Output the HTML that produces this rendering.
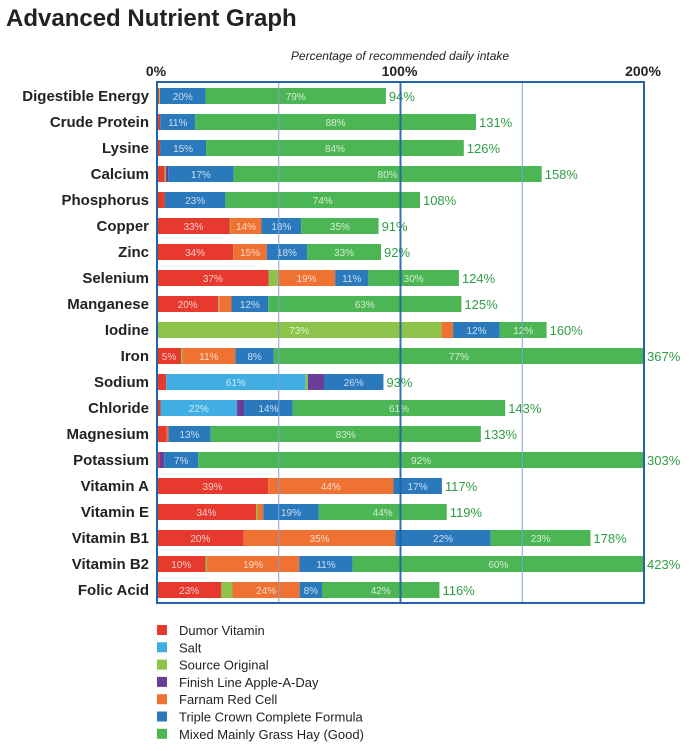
<!DOCTYPE html>
<html><head><meta charset="utf-8"><style>
body{margin:0;background:#fff;font-family:"Liberation Sans",sans-serif;}
svg{display:block}
</style></head><body>
<svg id="c" width="689" height="751" xmlns="http://www.w3.org/2000/svg">
<text x="6" y="26" font-size="24" font-weight="bold" fill="#222">Advanced Nutrient Graph</text>
<text x="400" y="60" font-size="12" font-style="italic" text-anchor="middle" fill="#222">Percentage of recommended daily intake</text>
<g id="bars"></g>
<g id="grid"></g>
<g id="legend"></g>
</svg>
<script>
const categories=["Digestible Energy","Crude Protein","Lysine","Calcium","Phosphorus","Copper","Zinc","Selenium","Manganese","Iodine","Iron","Sodium","Chloride","Magnesium","Potassium","Vitamin A","Vitamin E","Vitamin B1","Vitamin B2","Folic Acid"];
const totals=[94,131,126,158,108,91,92,124,125,160,367,93,143,133,303,117,119,178,423,116];
const seriesNames=["Dumor Vitamin","Salt","Source Original","Finish Line Apple-A-Day","Farnam Red Cell","Triple Crown Complete Formula","Mixed Mainly Grass Hay (Good)"];
const seriesColors=["#e8392f","#40aee3","#8dc34a","#6a3d98","#f07232","#2a79bd","#4db654"];
const dumor=[1,1,1,2,3,33,34,37,20,0,5,4,1,3,0.5,39,34,20,10,23];
const salt=[0,0,0,0,0,0,0,0,0,0,0,61,22,0,0,0,0,0,0,0];
const source=[0.3,0,0,0.3,0,0.3,0,3,0.3,73,0.3,1,0,0,0,0,0.5,0,0.3,4];
const finish=[0,0,0,0.6,0,0,0,0,0,0,0,7,2,0,1,0,0,0,0,0];
const farnam=[0,0,0,0,0,14,15,19,4,3,11,0,0,0.5,0,44,2,35,19,24];
const triple=[20,11,15,17,23,18,18,11,12,12,8,26,14,13,7,17,19,22,11,8];
const hay=[79,88,84,80,74,35,33,30,63,12,77,0,61,83,92,0,44,23,60,42];
const ticks=[0,100,200];
const series=[dumor,salt,source,finish,farnam,triple,hay];
const NS="http://www.w3.org/2000/svg";
const X0=157,X1=644,Y0=82,Y1=603,MAX=200;
const xs=v=>X0+(v/MAX)*(X1-X0);
const yRow=i=>96+i*26;
function mk(tag,at,parent){const e=document.createElementNS(NS,tag);for(const k in at)e.setAttribute(k,at[k]);parent.appendChild(e);return e;}
const svg=document.getElementById('c');
const bars=document.getElementById('bars'),grid=document.getElementById('grid'),leg=document.getElementById('legend');
categories.forEach((c,i)=>{
  const y=yRow(i);
  const t=mk('text',{x:149,y:y+5,'font-size':15,'font-weight':'bold','text-anchor':'end',fill:'#222'},svg);
  t.textContent=c;
  
  
  const tot=totals[i];const shown=Math.min(tot,MAX);
  let sum=0;series.forEach(s=>sum+=s[i]);
  let acc=0;
  series.forEach((s,k)=>{
    const v=s[i];if(!v)return;
    const a=xs(acc/sum*shown),b=xs((acc+v)/sum*shown);acc+=v;
    const r=mk('rect',{x:a,y:y-8,width:b-a,height:16,fill:seriesColors[k]},bars);
    
    
    if(v>=5&&b-a>18){
      const l=mk('text',{x:(a+b)/2,y:y+4,'font-size':10,'text-anchor':'middle',fill:'#fff','fill-opacity':0.75},bars);
      l.textContent=Math.round(v)+'%';
      
      
    }
  });
  const tl=mk('text',{x:xs(shown)+3,y:y+5,'font-size':13,fill:'#2e9e44'},bars);
  tl.textContent=tot+'%';
  
  
});
[50,150].forEach(v=>{const l=mk('line',{x1:xs(v),x2:xs(v),y1:Y0,y2:Y1,stroke:'#7f9fd0','stroke-width':1},grid);
  
  });
const g100=mk('line',{x1:xs(100),x2:xs(100),y1:Y0,y2:Y1,stroke:'#1f62a8','stroke-width':2,'stroke-opacity':0.9},grid);


const fr=mk('rect',{x:X0,y:Y0,width:X1-X0,height:Y1-Y0,fill:'none',stroke:'#2264a8','stroke-width':2},grid);


ticks.forEach(v=>{const t=mk('text',{x:xs(v)-1,y:76,'font-size':14,'font-weight':'bold','text-anchor':'middle',fill:'#222'},grid);
  t.textContent=v+'%';
  
  });
seriesNames.forEach((n,k)=>{const y=631+k*17.3;
  const r=mk('rect',{x:157,y:y-6,width:10,height:10,fill:seriesColors[k]},leg);
  
  
  const t=mk('text',{x:179,y:y+4,'font-size':13,fill:'#222'},leg);
  t.textContent=n;
  
  });
</script>
</body></html>
